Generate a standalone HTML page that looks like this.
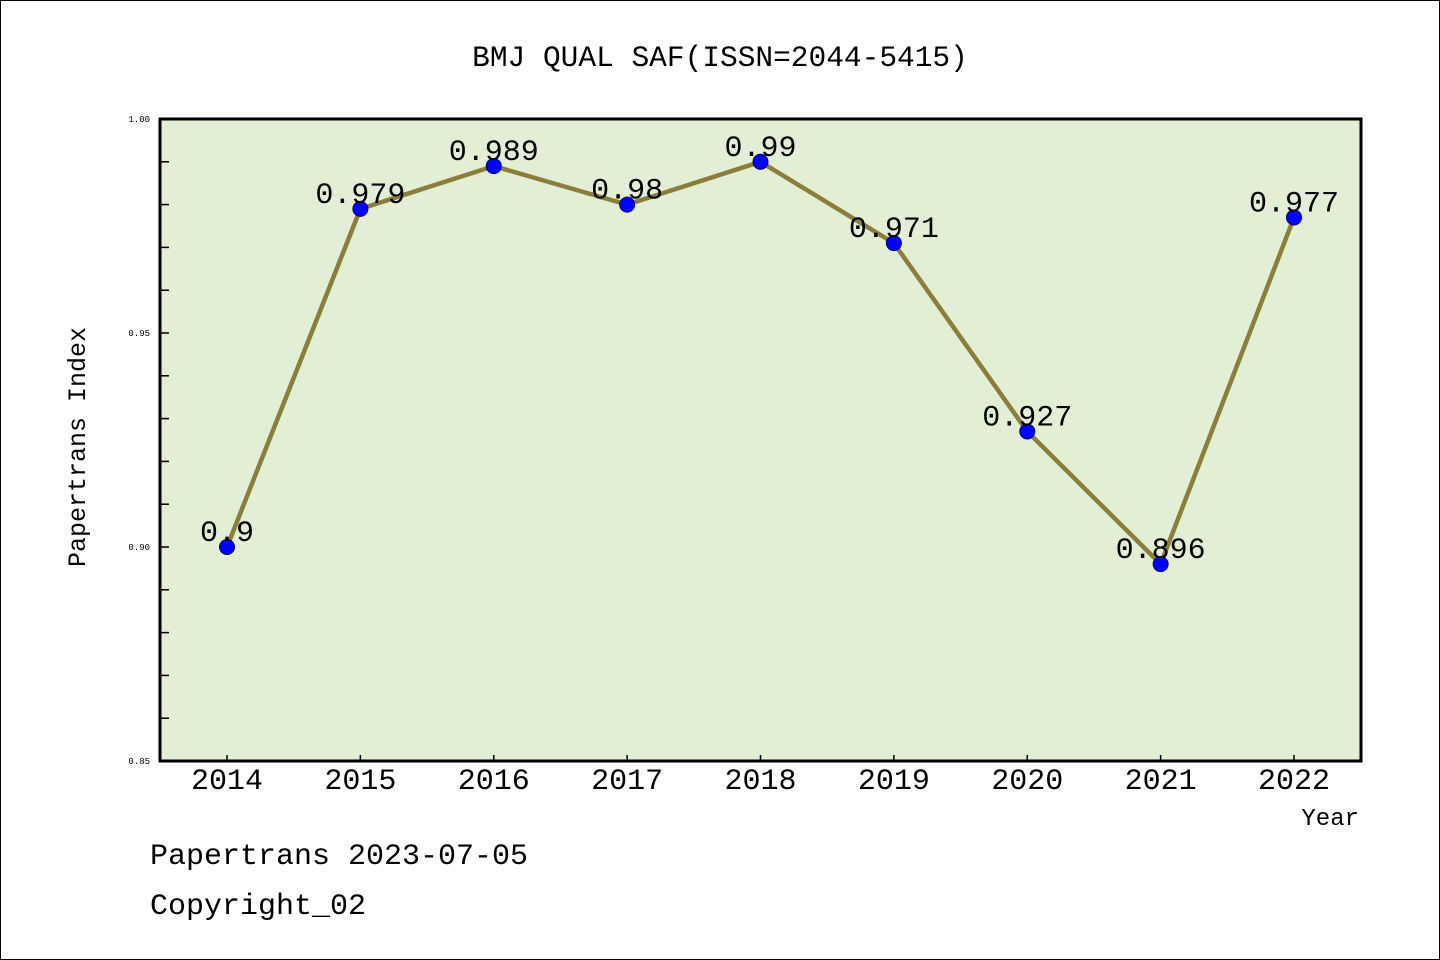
<!DOCTYPE html>
<html><head><meta charset="utf-8"><style>
html,body{margin:0;padding:0;background:#fff}
svg{display:block}
text{font-family:"Liberation Mono","DejaVu Sans Mono",monospace}
</style></head><body>
<svg id="chart" width="1440" height="960" xmlns="http://www.w3.org/2000/svg">
<rect x="0.5" y="0.5" width="1439" height="959" fill="#fff" stroke="#000"/>
<text x="720" y="66" font-size="29.5" text-anchor="middle">BMJ QUAL SAF(ISSN=2044-5415)</text>
<rect x="160" y="119" width="1201" height="642" fill="#e2efd5"/>
<g id="ticks"></g>
<g id="series"></g>
<rect x="160" y="119" width="1201" height="642" fill="none" stroke="#000" stroke-width="3"/>
<text x="85" y="447" font-size="25" text-anchor="middle" transform="rotate(-90 85 447)">Papertrans Index</text>
<text x="1359" y="825" font-size="24" text-anchor="end">Year</text>
<text x="150" y="864" font-size="30">Papertrans 2023-07-05</text>
<text x="150" y="914" font-size="30">Copyright_02</text>
</svg>
<script>
const years = ["2014","2015","2016","2017","2018","2019","2020","2021","2022"];
const values = [0.9,0.979,0.989,0.98,0.99,0.971,0.927,0.896,0.977];
const valueLabels = ["0.9","0.979","0.989","0.98","0.99","0.971","0.927","0.896","0.977"];
const yTickLabels = ["0.85","0.90","0.95","1.00"];
const yTickValues = [0.85,0.90,0.95,1.00];
const NS="http://www.w3.org/2000/svg";
const x0=160,x1=1361,yTop=119,yBot=761,yMin=0.85,yMax=1.0;
const xS=i=>227+i*(1294-227)/(years.length-1);
const yS=v=>yBot-(v-yMin)/(yMax-yMin)*(yBot-yTop);
function mk(tag,attrs,parent){const e=document.createElementNS(NS,tag);for(const k in attrs)e.setAttribute(k,attrs[k]);parent.appendChild(e);return e;}
const tg=document.getElementById('ticks'), sg=document.getElementById('series');
for(let v=yMin+0.01;v<yMax-0.001;v+=0.01){
  const t=mk('line',{x1:x0,x2:x0+9,y1:yS(v),y2:yS(v),stroke:'#000','stroke-width':1.5},tg);
  
  
}
yTickValues.forEach((v,i)=>{
  const t=mk('text',{x:x0-10,y:yS(v)+3,'font-size':9,'text-anchor':'end','font-family':'Liberation Sans, sans-serif'},tg);
  t.textContent=yTickLabels[i];
  
  
});
years.forEach((y,i)=>{
  const t=mk('line',{x1:xS(i),x2:xS(i),y1:yBot,y2:yBot-6,stroke:'#000','stroke-width':1.5},tg);
  
  
  const l=mk('text',{x:xS(i),y:789,'font-size':30,'text-anchor':'middle'},tg);
  l.textContent=y;
  
  
});
const pts=values.map((v,i)=>xS(i)+','+yS(v)).join(' ');
const line=mk('polyline',{points:pts,fill:'none',stroke:'#8b7d3a','stroke-width':4.5,'stroke-linejoin':'round'},sg);


values.forEach((v,i)=>{
  const c=mk('circle',{cx:xS(i),cy:yS(v),r:7.5,fill:'#0000ff',stroke:'#00007a','stroke-width':1},sg);
  
  
  const t=mk('text',{x:xS(i),y:yS(v)-6,'font-size':30,'text-anchor':'middle'},sg);
  t.textContent=valueLabels[i];
  
  
});
</script>
</body></html>
